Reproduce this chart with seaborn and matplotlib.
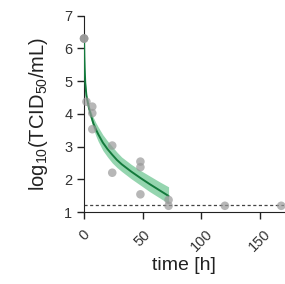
import numpy as np
import pandas as pd
import matplotlib
matplotlib.use('Agg')
import matplotlib.pyplot as plt
import seaborn as sns

# observed titers (log10 TCID50/mL) per sampling time
time_h = [0, 0, 0, 2, 7, 7, 7, 24, 24, 48, 48, 48, 72, 72, 120, 168]
titer = [6.3, 6.3, 6.3, 4.37, 4.22, 4.02, 3.53, 3.03, 2.2, 2.54, 2.37, 1.54, 1.37, 1.19, 1.19, 1.19]

# fitted decay curve with confidence band
fit_t = [0, 0.25, 0.5, 1, 2, 4, 6, 8, 10, 12, 16, 20, 24, 28, 32, 40, 48, 56, 64, 72]
fit_y = [6.3, 5.75, 5.4, 4.95, 4.55, 4.2, 3.93, 3.7, 3.53, 3.38, 3.12, 2.92, 2.75, 2.59, 2.46, 2.24, 2.04, 1.85, 1.67, 1.49]
fit_lo = [6.3, 5.72, 5.35, 4.9, 4.47, 4.1, 3.8, 3.53, 3.33, 3.16, 2.88, 2.68, 2.5, 2.36, 2.24, 2.02, 1.82, 1.62, 1.44, 1.26]
fit_hi = [6.3, 5.78, 5.45, 5.0, 4.63, 4.3, 4.06, 3.88, 3.73, 3.6, 3.36, 3.17, 3.0, 2.83, 2.68, 2.46, 2.27, 2.1, 1.93, 1.77]

detection_limit = 1.2

sns.set_style('ticks')
plt.rcParams['font.family'] = ['Liberation Sans', 'DejaVu Sans']
plt.rcParams['mathtext.fontset'] = 'custom'
plt.rcParams['mathtext.rm'] = 'Liberation Sans'
plt.rcParams['mathtext.it'] = 'Liberation Sans'

obs = pd.DataFrame({'time': time_h, 'titer': titer})
fit = pd.DataFrame({'time': fit_t, 'y': fit_y, 'lo': fit_lo, 'hi': fit_hi})

fig = plt.figure(figsize=(2.85, 2.84), dpi=100)
ax = fig.add_axes([0.295, 0.2535, 0.70, 0.6915])

ax.axhline(detection_limit, color='#444444', ls=(0, (2.5, 2)), lw=0.9, zorder=1)
ax.fill_between(fit['time'], fit['lo'], fit['hi'], color='#5cbf85', alpha=0.65, lw=0, zorder=2)
sns.lineplot(data=fit, x='time', y='y', color='#137a3c', lw=1.4, ax=ax, zorder=3)
sns.scatterplot(data=obs, x='time', y='titer', color='#999999', alpha=0.7, s=38,
                edgecolor='none', ax=ax, zorder=4, clip_on=False)

ax.set_xlim(0, 170)
ax.set_ylim(1, 7)
ax.set_xticks([0, 50, 100, 150])
ax.set_yticks([1, 2, 3, 4, 5, 6, 7])
sns.despine(ax=ax)
ax.spines['left'].set_color('#222222')
ax.spines['bottom'].set_color('#222222')
ax.tick_params(labelsize=10.5, length=5, width=1, color='#222222', labelcolor='#333333')
ax.tick_params(axis='x', pad=6)
plt.setp(ax.get_xticklabels(), rotation=45, ha='center', va='top')

ax.set_xlabel('time [h]', fontsize=14, color='#222222', labelpad=2)
ax.set_ylabel(r'$\mathregular{log_{10}(TCID_{50}/mL)}$', fontsize=14.5, color='#222222', labelpad=10)

fig.savefig('out.png', dpi=100)
